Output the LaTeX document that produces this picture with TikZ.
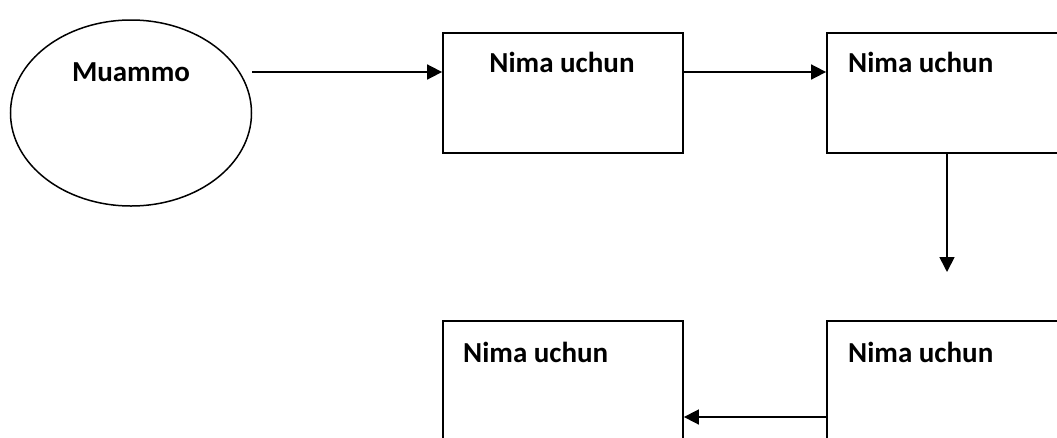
\documentclass[tikz,border=0pt]{standalone}
\usepackage{fontspec}
\setmainfont{Carlito}
\usetikzlibrary{arrows.meta,shapes.geometric}
\tikzset{
  boxshape/.style={draw, line width=1.8pt, rectangle, inner sep=0pt},
  lbl/.style={font=\fontsize{29}{34}\selectfont\bfseries, inner sep=0pt},
  arr/.style={line width=1.7pt, -{Triangle[length=15pt,width=15pt]}},
}
\begin{document}
\begin{tikzpicture}[x=1pt,y=-1pt]
\useasboundingbox (0,0) rectangle (1057,437);
\node[draw, ellipse, line width=1.5pt, inner sep=0pt, minimum width=241pt, minimum height=186pt] (e) at (131,113) {};
\node[lbl] (te) at (131,72) {Muammo};
\node[boxshape, minimum width=240pt, minimum height=120pt] (b1) at (563,93) {};
\node[lbl] (t1) at (562,62) {Nima uchun};
\node[boxshape, minimum width=253pt, minimum height=120pt] (b2) at (953.5,93) {};
\node[lbl, anchor=west] (t2) at (848,62) {Nima uchun};
\node[boxshape, minimum width=240pt, minimum height=139pt] (b3) at (563,390.5) {};
\node[lbl, anchor=west] (t3) at (463,352) {Nima uchun};
\node[boxshape, minimum width=253pt, minimum height=139pt] (b4) at (953.5,390.5) {};
\node[lbl, anchor=west] (t4) at (848,352) {Nima uchun};
\coordinate (d) at (947,272);
\draw[arr] (e.east |- 0,72) -- (b1.west |- 0,72);
\draw[arr] (b1.east |- 0,72) -- (b2.west |- 0,72);
\draw[arr] (b2.south -| d) -- (d);
\draw[arr] (b4.west |- 0,417) -- (b3.east |- 0,417);
\end{tikzpicture}
\end{document}
